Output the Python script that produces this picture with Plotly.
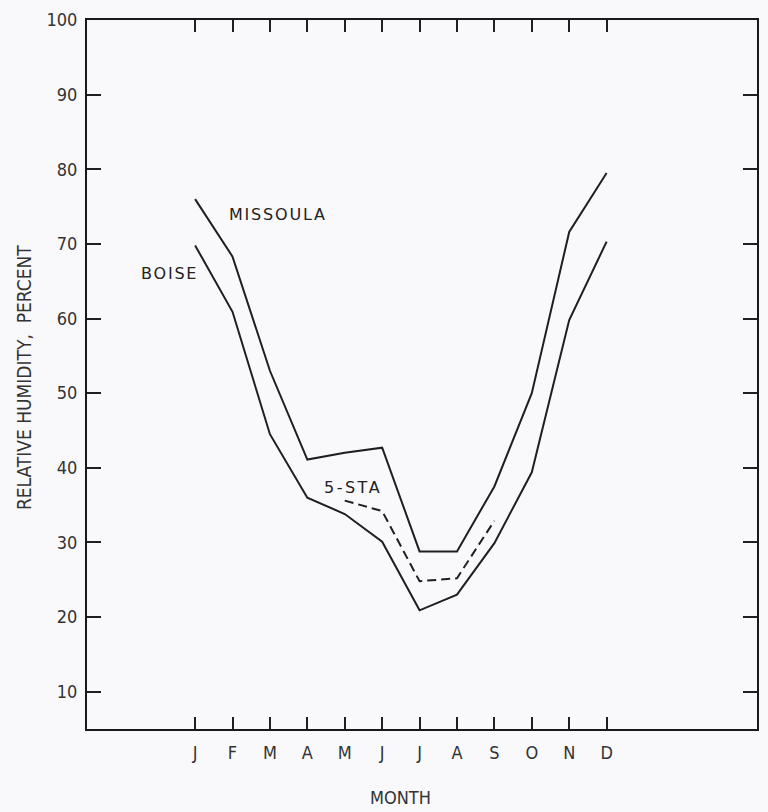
import plotly.graph_objects as go

# Mean monthly relative humidity (percent)
months = list(range(1, 13))
month_labels = ["J", "F", "M", "A", "M", "J", "J", "A", "S", "O", "N", "D"]

missoula = [76, 68.3, 53, 41.1, 42, 42.7, 28.8, 28.8, 37.5, 50, 71.6, 79.5]
boise = [69.8, 60.9, 44.5, 36.0, 33.8, 30.1, 20.9, 23.0, 29.9, 39.4, 59.8, 70.3]

five_sta_months = [5, 6, 7, 8, 9]
five_sta = [35.6, 34.2, 24.8, 25.2, 32.9]

y_ticks = [10, 20, 30, 40, 50, 60, 70, 80, 90, 100]

x_range = [-1.89, 16.02]
line_color = "#1f1f1f"
narrow = "Liberation Sans Narrow, DejaVu Sans Condensed, Roboto"
tick_font = dict(family=narrow, size=18, color="#333333")
label_font = dict(family="DejaVu Sans", size=16, color="#222222")


def spaced(text, px):
    return f'<span style="letter-spacing:{px}px">{text}</span>'


fig = go.Figure()

fig.add_trace(go.Scatter(x=months, y=missoula, mode="lines",
                         line=dict(color=line_color, width=2), name="MISSOULA"))
fig.add_trace(go.Scatter(x=months, y=boise, mode="lines",
                         line=dict(color=line_color, width=2), name="BOISE"))
fig.add_trace(go.Scatter(x=five_sta_months, y=five_sta, mode="lines",
                         line=dict(color=line_color, width=2, dash="9px,5px"), name="5-STA"))

# Series labels
fig.add_annotation(x=1.85, y=73.9, text=spaced("MISSOULA", 1.8), showarrow=False,
                   xanchor="left", yanchor="middle", font=label_font)
fig.add_annotation(x=-0.5, y=66.0, text=spaced("BOISE", 1.8), showarrow=False,
                   xanchor="left", yanchor="middle", font=label_font)
fig.add_annotation(x=4.4, y=37.3, text=spaced("5-STA", 2.5), showarrow=False,
                   xanchor="left", yanchor="middle", font=label_font)

# Axis titles
fig.add_annotation(x=6.5, xref="x", y=-0.097, yref="paper", text="MONTH",
                   showarrow=False, xanchor="center", yanchor="middle",
                   font=dict(family=narrow, size=18, color="#333333"))
fig.add_annotation(x=-0.094, xref="paper", y=0.495, yref="paper",
                   text="RELATIVE HUMIDITY,  PERCENT", textangle=-90,
                   showarrow=False, xanchor="center", yanchor="middle",
                   font=dict(family=narrow, size=19, color="#333333"))

axis_line = dict(showline=True, linecolor="#1a1a1a", linewidth=2,
                 showgrid=False, zeroline=False)

fig.update_layout(
    width=768, height=812,
    margin=dict(l=87, r=9, t=15, b=83),
    paper_bgcolor="#f9f9fb", plot_bgcolor="#f9f9fb",
    showlegend=False,
    xaxis=dict(range=x_range, tickmode="array", tickvals=months,
               ticktext=month_labels, ticks="inside", ticklen=12, tickwidth=1.8,
               tickcolor=line_color, mirror="allticks", tickfont=tick_font,
               ticklabelstandoff=6, **axis_line),
    yaxis=dict(range=[5, 100], tickmode="array", tickvals=y_ticks,
               ticks="inside", ticklen=14, tickwidth=1.8, tickcolor=line_color,
               mirror="allticks", tickfont=tick_font, ticklabelstandoff=4,
               **axis_line),
)

fig.write_html("out.html")
